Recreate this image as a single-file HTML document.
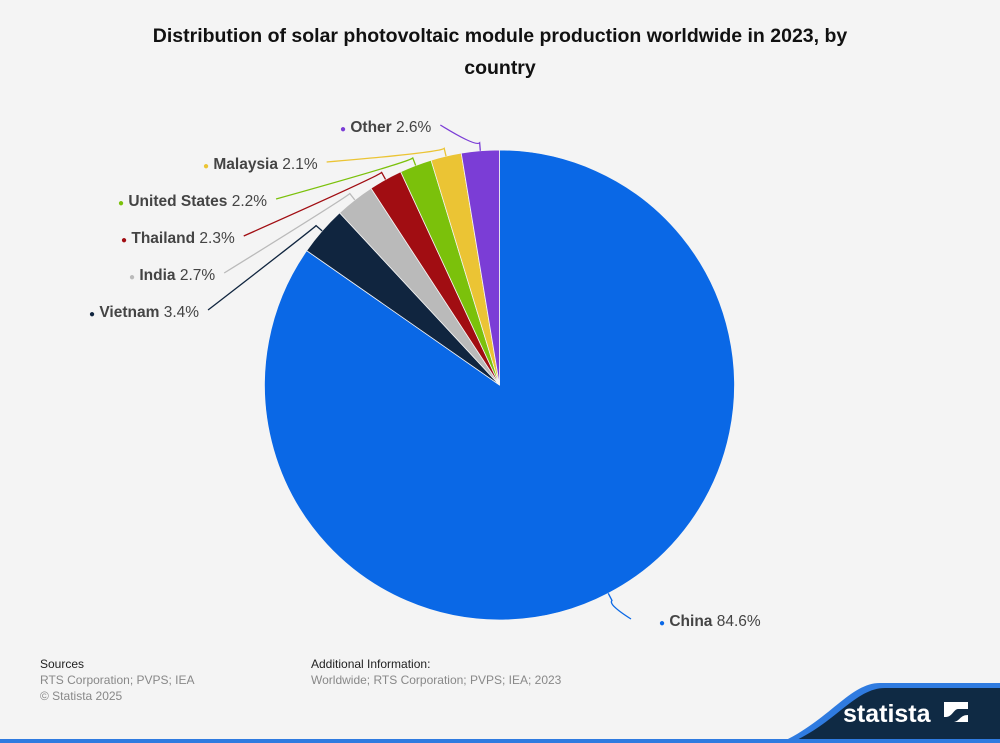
<!DOCTYPE html>
<html><head><meta charset="utf-8"><style>
body{margin:0;width:1000px;height:743px;background:#f4f4f4;font-family:"Liberation Sans",Arial,sans-serif;position:relative;overflow:hidden}
.t{position:absolute;left:0;width:1000px;top:20px;text-align:center;font-weight:bold;font-size:19.5px;line-height:32px;color:#111}
.f{position:absolute;font-size:12px;color:#888;line-height:16px}
.f b{color:#222;font-weight:normal}
</style></head><body>
<div class="t">Distribution of solar photovoltaic module production worldwide in 2023, by<br>country</div>
<svg id="c" width="1000" height="743" style="position:absolute;left:0;top:0"></svg>
<div class="f" style="left:40px;top:656px"><b>Sources</b><br>RTS Corporation; PVPS; IEA<br>© Statista 2025</div>
<div class="f" style="left:311px;top:656px"><b>Additional Information:</b><br>Worldwide; RTS Corporation; PVPS; IEA; 2023</div>
<svg width="1000" height="743" style="position:absolute;left:0;top:0">
<path d="M780,743 C830,720 850,683 880,683 L1000,683 L1000,743Z" fill="#2f7be0"/>
<path d="M790,743 C835,724 855,688 885,688 L1000,688 L1000,743Z" fill="#0f2a44"/>
<rect x="0" y="739" width="1000" height="4" fill="#2f7be0"/>
<text x="843" y="722" font-family="Liberation Sans,sans-serif" font-weight="bold" font-size="25" fill="#fff">statista</text>
<path d="M944,702 h24 v7 h-10 c-4,0 -6,8 -12,8 h-2z M944,722 h24 v-7 c-8,0 -8,6 -14,7z" fill="#fff"/>
</svg>
<script>
const categories=["China","Vietnam","India","Thailand","United States","Malaysia","Other"];
const values=[84.6,3.4,2.7,2.3,2.2,2.1,2.6];
const colors=["#0a68e6","#10253f","#bababa","#a10d12","#7bc10b","#ebc434","#7b3dd6"];
const svg=document.getElementById('c');const NS="http://www.w3.org/2000/svg";
const cx=499.5,cy=385,r=235;
const total=values.reduce((a,b)=>a+b,0);
function pt(a,rr){return [cx+rr*Math.sin(a),cy-rr*Math.cos(a)];}
let acc=0;
const labelPos=[[663,621],[93,312],[133,275],[125,238],[122,201],[207,164],[344,127]];
values.forEach((v,i)=>{
 const a0=acc/total*2*Math.PI;acc+=v;const a1=acc/total*2*Math.PI;
 const p0=pt(a0,r),p1=pt(a1,r);
 const path=document.createElementNS(NS,'path');
 path.setAttribute('d',`M${cx},${cy} L${p0[0]},${p0[1]} A${r},${r} 0 ${a1-a0>Math.PI?1:0} 1 ${p1[0]},${p1[1]}Z`);
 path.setAttribute('fill',colors[i]);path.setAttribute('stroke','#f4f4f4');path.setAttribute('stroke-width','0.8');
 
 
 svg.appendChild(path);
 const am=(a0+a1)/2,e=pt(am,r),k=pt(am,r+8);
 const lp=labelPos[i];
 const text=document.createElementNS(NS,'text');
 text.setAttribute('y',lp[1]+5);text.setAttribute('font-size','15.5');text.setAttribute('fill','#444');
 
 
 text.innerHTML=`<tspan fill="${colors[i]}" font-size="10">●</tspan> <tspan font-weight="bold">${categories[i]}</tspan> ${v.toFixed(1)}%`;
 svg.appendChild(text);
 text.setAttribute('x',lp[0]-4);
 let ex;
 if(i===0){ex=lp[0]-32;}else{ex=lp[0]+text.getComputedTextLength()+5;}
 const line=document.createElementNS(NS,'path');
 line.setAttribute('d',`M${e[0]},${e[1]} L${k[0]},${k[1]} Q${k[0]-4},${k[1]+4} ${ex},${lp[1]-2}`);
 line.setAttribute('fill','none');line.setAttribute('stroke',colors[i]);line.setAttribute('stroke-width','1.3');
 
 
 svg.appendChild(line);
});
</script>
</body></html>
